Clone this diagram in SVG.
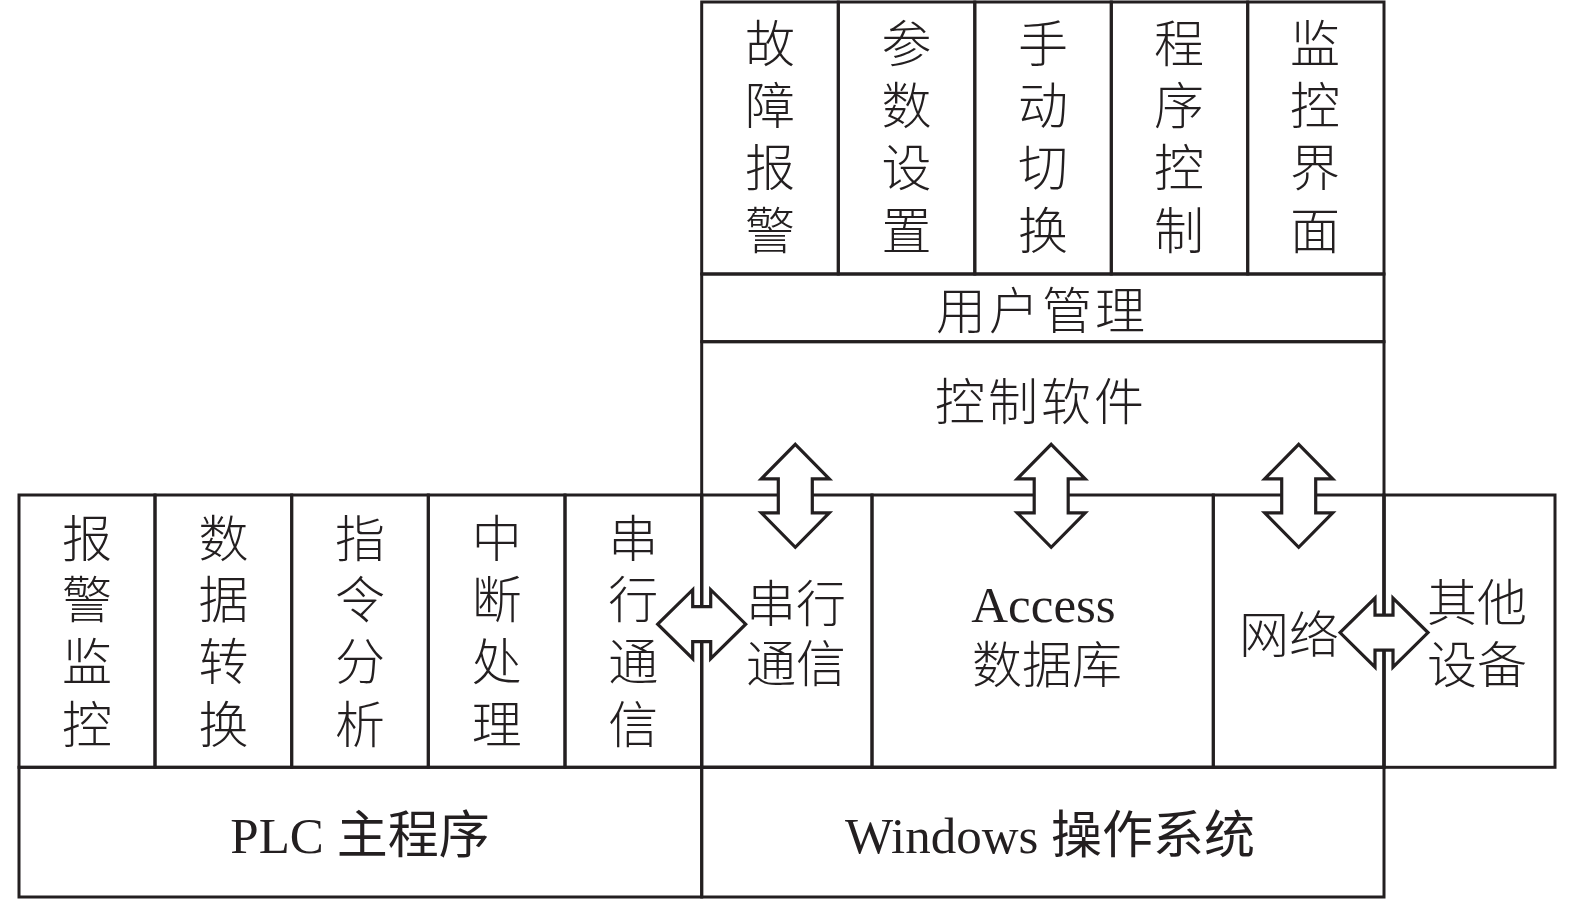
<svg xmlns="http://www.w3.org/2000/svg" width="1575" height="899" viewBox="0 0 1575 899">
<style>
.box{fill:none;stroke:#231f20;stroke-width:3}
.arr{fill:#fff;stroke:#231f20;stroke-width:3.2;stroke-linejoin:miter}
.cjk{font-family:'Noto Sans CJK SC',sans-serif;font-size:50px;font-weight:300;fill:#231f20;text-anchor:middle}
.mix{font-family:'Liberation Serif','Noto Sans CJK SC',serif;font-size:51px;fill:#231f20;text-anchor:middle}
</style>
<defs>
<path id="ud" d="M0,-51.5 L34,-17 L17,-17 L17,17 L34,17 L0,51.5 L-34,17 L-17,17 L-17,-17 L-34,-17 Z"/>
<path id="lr" d="M-44,0 L-9,-34.5 L-9,-17.5 L9,-17.5 L9,-34.5 L44,0 L9,34.5 L9,17.5 L-9,17.5 L-9,34.5 Z"/>
</defs>
<rect width="1575" height="899" fill="#fff"/>

<g id="fault-alarm"><rect class="box" x="701.7" y="2" width="136.6" height="272"/>
<text class="cjk" x="770" y="62">故</text><text class="cjk" x="770" y="124">障</text><text class="cjk" x="770" y="186">报</text><text class="cjk" x="770" y="249">警</text></g>
<g id="param-set"><rect class="box" x="838.3" y="2" width="136.5" height="272"/>
<text class="cjk" x="906.5" y="62">参</text><text class="cjk" x="906.5" y="124">数</text><text class="cjk" x="906.5" y="186">设</text><text class="cjk" x="906.5" y="249">置</text></g>
<g id="manual-switch"><rect class="box" x="974.8" y="2" width="136.5" height="272"/>
<text class="cjk" x="1043" y="62">手</text><text class="cjk" x="1043" y="124">动</text><text class="cjk" x="1043" y="186">切</text><text class="cjk" x="1043" y="249">换</text></g>
<g id="program-control"><rect class="box" x="1111.3" y="2" width="136.4" height="272"/>
<text class="cjk" x="1179" y="62">程</text><text class="cjk" x="1179" y="124">序</text><text class="cjk" x="1179" y="186">控</text><text class="cjk" x="1179" y="249">制</text></g>
<g id="monitor-ui"><rect class="box" x="1247.7" y="2" width="136.3" height="272"/>
<text class="cjk" x="1315" y="62">监</text><text class="cjk" x="1315" y="124">控</text><text class="cjk" x="1315" y="186">界</text><text class="cjk" x="1315" y="249">面</text></g>

<g id="user-mgmt"><rect class="box" x="701.7" y="274" width="682.3" height="67.7"/>
<text class="cjk" x="1042" y="329" letter-spacing="3">用户管理</text></g>
<g id="control-software"><rect class="box" x="701.7" y="341.7" width="682.3" height="425.6"/>
<text class="cjk" x="1041" y="420" letter-spacing="3">控制软件</text></g>

<g id="serial-pc"><rect class="box" x="701.7" y="495" width="170.3" height="272.3"/>
<text class="cjk" x="796" y="621.5">串行</text><text class="cjk" x="796" y="682">通信</text></g>
<g id="access-db"><rect class="box" x="872" y="495" width="341.3" height="272.3"/>
<text class="mix" x="1043.5" y="622" font-size="52">Access</text>
<text class="cjk" x="1047" y="683">数据库</text></g>
<g id="network"><rect class="box" x="1213.3" y="495" width="170.7" height="272.3"/>
<text class="cjk" x="1289" y="653">网络</text></g>
<g id="other-devices"><rect class="box" x="1384" y="495" width="171" height="272.3"/>
<text class="cjk" x="1477" y="621">其他</text><text class="cjk" x="1477" y="683">设备</text></g>
<g id="windows-os"><rect class="box" x="701.7" y="767.3" width="682.3" height="129.7"/>
<text class="mix" x="1050" y="853">Windows 操作系统</text></g>

<g id="alarm-monitor"><rect class="box" x="19" y="495" width="136" height="272.3"/>
<text class="cjk" x="87" y="557">报</text><text class="cjk" x="87" y="618">警</text><text class="cjk" x="87" y="680">监</text><text class="cjk" x="87" y="743">控</text></g>
<g id="data-convert"><rect class="box" x="155" y="495" width="136.7" height="272.3"/>
<text class="cjk" x="223.4" y="557">数</text><text class="cjk" x="223.4" y="618">据</text><text class="cjk" x="223.4" y="680">转</text><text class="cjk" x="223.4" y="743">换</text></g>
<g id="instr-analysis"><rect class="box" x="291.7" y="495" width="136.6" height="272.3"/>
<text class="cjk" x="360" y="557">指</text><text class="cjk" x="360" y="618">令</text><text class="cjk" x="360" y="680">分</text><text class="cjk" x="360" y="743">析</text></g>
<g id="interrupt"><rect class="box" x="428.3" y="495" width="136.7" height="272.3"/>
<text class="cjk" x="496.7" y="557">中</text><text class="cjk" x="496.7" y="618">断</text><text class="cjk" x="496.7" y="680">处</text><text class="cjk" x="496.7" y="743">理</text></g>
<g id="serial-plc"><rect class="box" x="565" y="495" width="136.7" height="272.3"/>
<text class="cjk" x="633.3" y="557">串</text><text class="cjk" x="633.3" y="618">行</text><text class="cjk" x="633.3" y="680">通</text><text class="cjk" x="633.3" y="743">信</text></g>
<g id="plc-main"><rect class="box" x="19" y="767.3" width="682.7" height="129.7"/>
<text class="mix" x="360" y="853">PLC 主程序</text></g>

<g id="connectors">
<use href="#ud" class="arr" transform="translate(795.3,495.8)"/>
<use href="#ud" class="arr" transform="translate(1051.2,495.8)"/>
<use href="#ud" class="arr" transform="translate(1298.7,495.8)"/>
<use href="#lr" class="arr" transform="translate(701.7,624.2)"/>
<use href="#lr" class="arr" transform="translate(1384,632.6)"/>
</g>
</svg>
